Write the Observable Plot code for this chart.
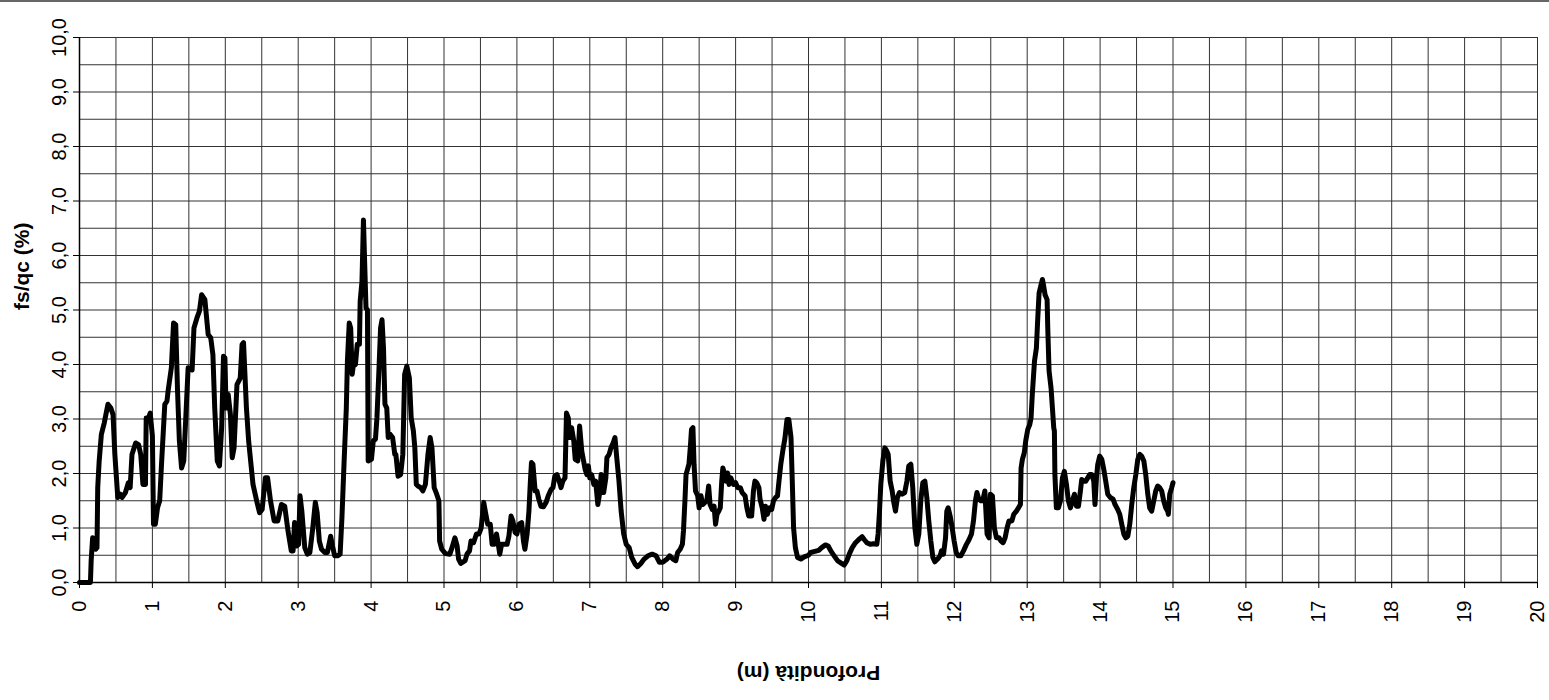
<!DOCTYPE html>
<html><head><meta charset="utf-8">
<script src="https://cdn.jsdelivr.net/npm/d3@7"></script>
<script src="https://cdn.jsdelivr.net/npm/@observablehq/plot@0.6"></script>
<style>
html,body{margin:0;padding:0;background:#fff;}
#chart{position:absolute;left:0;top:0;}
#topline{position:absolute;left:0;top:0;width:1549px;height:2px;background:#666;}
</style></head><body>
<div id="chart"></div><div id="topline"></div>
<script>
const depthM = [
0,0.15,0.16,0.18,0.22,0.24,0.25,0.27,0.30,0.34,0.39,0.43,0.46,0.485,0.525,0.56,0.585,0.63,0.67,0.695,0.72,0.77,0.81,0.84,0.87,0.905,0.915,0.93,0.97,1.0,
1.015,1.04,1.07,1.10,1.125,1.17,1.2,1.215,1.26,1.29,1.32,1.345,1.37,1.40,1.43,1.46,1.49,1.545,1.57,1.61,1.645,1.675,1.72,1.765,1.80,1.83,1.855,1.89,1.92,1.95,
1.975,1.995,2.01,2.04,2.07,2.095,2.12,2.16,2.205,2.23,2.25,2.29,2.32,2.38,
2.43,2.47,2.505,2.55,2.58,2.62,2.67,2.72,2.77,2.815,2.86,2.905,2.93,2.95,2.98,3.005,3.025,3.05,3.09,3.125,3.16,3.2,3.235,3.26,3.29,3.32,3.365,3.40,3.445,3.47,
3.50,3.54,3.575,3.60,3.63,3.66,3.675,3.70,3.72,3.74,3.755,3.785,3.81,3.84,3.85,3.875,3.895,3.91,3.93,3.95,3.96,4.005,4.03,4.06,4.08,4.105,4.13,4.15,4.17,4.19,
4.215,4.235,4.26,4.295,4.325,4.34,4.37,4.405,4.435,4.46,4.49,4.525,4.55,4.58,4.60,4.62,4.645,4.68,4.71,4.745,4.78,4.81,4.835,4.865,4.90,4.93,4.94,4.97,
5.02,5.08,5.11,5.15,5.18,5.20,5.23,5.29,5.315,5.35,5.37,5.405,5.445,5.48,5.51,5.545,5.57,5.60,5.635,5.66,5.69,5.72,5.745,5.765,5.79,5.83,5.865,5.89,5.92,5.945,
5.975,6.0,6.03,6.065,6.09,6.11,6.14,6.165,6.185,6.20,6.22,6.25,6.275,6.30,6.33,6.365,6.40,6.43,6.47,6.495,6.52,6.55,6.58,6.605,6.63,6.66,6.68,6.705,6.72,6.75,
6.78,6.80,6.835,6.86,6.89,6.915,6.935,6.96,6.98,7.0,7.025,7.055,7.08,7.11,7.14,7.155,7.175,7.19,7.22,7.235,7.265,7.29,7.32,7.345,7.37,7.40,7.43,7.465,7.50,7.54,7.575,
7.62,7.655,7.70,7.745,7.80,7.855,7.91,7.955,8.0,8.06,8.095,8.14,8.18,8.205,8.24,8.27,8.285,8.305,8.32,8.36,8.38,8.395,8.415,8.43,8.45,8.48,8.50,8.525,8.55,8.58,
8.605,8.63,8.65,8.68,8.705,8.725,8.745,8.77,8.79,8.81,8.825,8.845,8.87,8.89,8.91,8.935,8.97,9.0,9.03,9.065,9.09,9.13,9.155,9.18,9.22,9.245,9.265,9.29,9.32,9.335,
9.365,9.39,9.41,9.435,9.465,9.495,9.52,9.55,9.575,9.595,9.62,9.65,9.675,9.705,9.73,9.76,9.78,9.795,9.82,9.85,9.895,9.94,10.0,
10.03,10.087,10.14,10.18,10.233,10.27,10.306,10.352,10.398,10.453,10.49,10.526,10.562,10.6,10.645,10.69,10.736,10.764,10.8,10.846,10.89,10.937,10.955,10.974,10.992,11.02,11.047,11.075,11.093,11.12,
11.148,11.166,11.193,11.22,11.248,11.285,11.32,11.35,11.376,11.404,11.43,11.459,11.486,11.513,11.54,11.568,11.596,11.623,11.65,11.678,11.706,11.733,11.77,11.806,11.824,11.852,11.88,11.897,11.916,11.943,
11.97,11.998,12.026,12.053,12.09,12.126,12.163,12.2,12.236,12.263,12.29,12.31,12.337,12.364,12.39,12.419,
12.45,12.477,12.495,12.523,12.55,12.578,12.614,12.642,12.669,12.697,12.724,12.75,12.79,12.815,12.852,12.88,12.907,12.916,12.934,12.96,12.98,13.008,13.035,13.053,13.07,13.1,13.126,13.145,13.163,13.19,
13.209,13.227,13.245,13.273,13.282,13.3,13.327,13.346,13.364,13.373,13.38,13.4,13.428,13.456,13.483,13.51,13.538,13.565,13.593,13.62,13.648,13.675,13.703,13.73,13.748,13.776,13.803,13.83,13.858,13.885,
13.913,13.93,13.95,13.968,13.995,14.023,14.05,14.077,14.105,14.14,14.178,14.205,14.242,14.27,14.297,14.325,14.352,14.38,14.407,14.434,14.462,14.49,14.517,14.544,14.57,14.6,14.626,14.654,14.68,14.708,
14.736,14.763,14.79,14.818,14.845,14.872,14.9,14.927,14.936,14.955,14.982,15.0
];
const fsQc = [
0,0,0.4,0.82,0.61,0.64,1.74,2.23,2.72,2.93,3.27,3.2,3.08,2.35,1.56,1.62,1.56,1.65,1.83,1.74,2.35,2.56,2.53,2.35,1.8,1.8,3.02,2.96,3.11,2.69,
1.07,1.07,1.37,1.5,2.17,3.27,3.33,3.51,3.94,4.76,4.73,3.51,2.6,2.1,2.23,3.08,3.94,3.9,4.67,4.85,4.98,5.28,5.19,4.55,4.49,4.18,3.2,2.23,2.14,2.84,
4.15,4.12,3.2,3.45,3.08,2.29,2.47,3.63,3.75,4.37,4.4,3.2,2.6,1.8,
1.5,1.28,1.34,1.92,1.92,1.5,1.13,1.13,1.43,1.4,0.95,0.58,0.58,1.1,0.67,0.7,1.59,1.31,0.64,0.52,0.55,1.0,1.47,1.28,0.76,0.61,0.55,0.55,0.85,0.67,
0.49,0.49,0.52,1.19,2.23,3.2,4.06,4.76,4.67,3.82,3.97,4.0,4.37,4.37,5.16,5.53,6.65,5.95,5.04,5.0,2.23,2.26,2.6,2.63,3.02,3.82,4.67,4.82,4.3,3.27,
3.2,2.66,2.72,2.66,2.35,2.35,1.95,1.98,2.35,3.82,3.97,3.75,3.02,2.78,2.47,1.8,1.77,1.74,1.68,1.8,2.35,2.66,2.47,1.74,1.62,1.5,0.76,0.61,
0.53,0.52,0.64,0.82,0.67,0.43,0.35,0.4,0.52,0.58,0.76,0.73,0.89,0.89,1.0,1.47,1.28,1.07,1.07,0.7,0.7,0.89,0.7,0.52,0.7,0.7,0.7,0.85,1.22,1.13,
0.92,0.89,1.07,1.1,0.76,0.61,0.89,1.31,1.86,2.2,2.17,1.68,1.68,1.53,1.4,1.39,1.47,1.59,1.71,1.74,1.95,1.98,1.86,1.74,1.86,1.92,3.11,3.02,2.66,2.84,
2.6,2.26,2.23,2.87,2.41,2.23,2.08,1.98,2.14,1.92,1.98,1.8,1.86,1.43,1.68,1.98,1.8,1.65,1.92,2.29,2.35,2.47,2.56,2.66,2.29,1.86,1.31,0.89,0.7,0.64,0.46,
0.34,0.29,0.35,0.43,0.49,0.52,0.49,0.37,0.37,0.43,0.49,0.43,0.4,0.55,0.61,0.7,0.95,1.5,1.98,2.17,2.5,2.81,2.84,2.17,1.68,1.59,1.37,1.59,1.43,1.47,
1.5,1.77,1.43,1.34,1.4,1.07,1.25,1.31,1.37,1.86,2.1,2.01,1.86,2.01,1.8,1.92,1.8,1.83,1.74,1.74,1.65,1.59,1.37,1.22,1.22,1.68,1.86,1.83,1.74,1.53,
1.37,1.16,1.4,1.25,1.37,1.34,1.5,1.56,1.59,1.86,2.17,2.44,2.63,2.99,2.99,2.66,1.74,1.01,0.64,0.46,0.43,0.47,0.5,
0.55,0.57,0.59,0.64,0.69,0.67,0.58,0.49,0.4,0.35,0.32,0.4,0.53,0.64,0.73,0.79,0.84,0.79,0.73,0.7,0.71,0.7,0.89,1.31,1.8,2.23,2.47,2.41,2.35,1.86,
1.68,1.5,1.31,1.56,1.65,1.62,1.65,1.86,2.14,2.17,1.74,1.01,0.7,0.89,1.5,1.83,1.86,1.56,1.13,0.76,0.46,0.38,0.43,0.49,0.58,0.52,0.82,1.31,1.37,1.22,
1.01,0.76,0.55,0.49,0.49,0.58,0.69,0.78,0.89,1.13,1.5,1.65,1.53,1.5,1.5,1.68,
0.89,0.82,1.62,1.59,1.0,0.82,0.82,0.76,0.73,0.82,1.0,1.13,1.13,1.25,1.31,1.37,1.43,2.1,2.26,2.38,2.6,2.81,2.9,3.02,3.45,4.06,4.3,4.85,5.31,5.46,
5.56,5.43,5.28,5.19,4.67,3.88,3.57,3.2,2.84,2.78,1.98,1.37,1.37,1.5,1.92,2.04,1.8,1.5,1.37,1.5,1.62,1.4,1.4,1.68,1.89,1.86,1.86,1.92,1.98,1.98,
1.86,1.43,1.92,2.17,2.32,2.26,2.08,1.86,1.62,1.56,1.53,1.43,1.34,1.25,1.07,0.89,0.82,0.85,1.07,1.43,1.74,1.98,2.26,2.35,2.32,2.23,1.98,1.62,1.37,1.31,
1.5,1.68,1.77,1.74,1.68,1.5,1.37,1.31,1.25,1.62,1.74,1.83
];
const xTicks = [0,1,2,3,4,5,6,7,8,9,10,11,12,13,14,15,16,17,18,19,20];
const yTicks = [0,1,2,3,4,5,6,7,8,9,10];
const yTickLabels = ["0,0","1,0","2,0","3,0","4,0","5,0","6,0","7,0","8,0","9,0","10,0"];
const xGrid = [0,0.5,1,1.5,2,2.5,3,3.5,4,4.5,5,5.5,6,6.5,7,7.5,8,8.5,9,9.5,10,10.5,11,11.5,12,12.5,13,13.5,14,14.5,15,15.5,16,16.5,17,17.5,18,18.5,19,19.5,20];
const yGrid = [0,0.5,1,1.5,2,2.5,3,3.5,4,4.5,5,5.5,6,6.5,7,7.5,8,8.5,9,9.5,10];
const xTitle = "Profondità (m)";
const yTitle = "fs/qc (%)";

const data = depthM.map((d, i) => ({depth: d, ratio: fsQc[i]}));

const chart = Plot.plot({
  width: 1549, height: 700,
  marginLeft: 79, marginRight: 12, marginTop: 37, marginBottom: 118,
  style: {fontFamily: "'Liberation Sans', Arial, sans-serif", background: "#fff", color: "#000"},
  x: {domain: [0, 20]},
  y: {domain: [0, 10]},
  marks: [
    Plot.gridX(xGrid, {stroke: "#333", strokeOpacity: 1, strokeWidth: 1}),
    Plot.gridY(yGrid, {stroke: "#333", strokeOpacity: 1, strokeWidth: 1}),
    Plot.ruleX([0], {stroke: "#000", strokeWidth: 1.5}),
    Plot.ruleY([0], {stroke: "#000", strokeWidth: 1.5}),
    Plot.axisX(xTicks, {tickRotate: -90, tickSize: 6, tickPadding: 12, fontSize: 20, label: null}),
    Plot.axisY(yTicks, {tickRotate: -90, tickSize: 6, tickPadding: 8, fontSize: 20, label: null,
      tickFormat: d => yTickLabels[yTicks.indexOf(d)]}),
    Plot.line(data, {x: "depth", y: "ratio", stroke: "#000", strokeWidth: 5, strokeLinejoin: "round", strokeLinecap: "round"}),
    Plot.text([yTitle], {frameAnchor: "left", dx: -57, rotate: -90, fontWeight: "bold", fontSize: 21}),
    Plot.text([xTitle], {frameAnchor: "bottom", dy: 83, rotate: 180, fontWeight: "bold", fontSize: 21})
  ]
});
document.getElementById("chart").append(chart);
</script>
</body></html>
